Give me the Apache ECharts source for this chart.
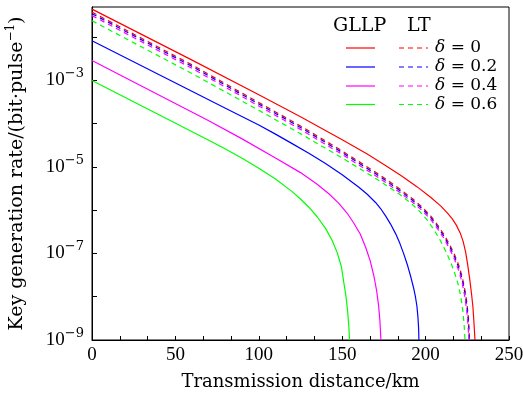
<!DOCTYPE html>
<html>
<head>
<meta charset="utf-8">
<script src="https://cdn.jsdelivr.net/npm/echarts@6/dist/echarts.min.js"></script>
<style>
html,body{margin:0;padding:0;background:#fff;}
#chart{width:523px;height:396px;}
</style>
</head>
<body>
<div id="chart"></div>
<script>
// Transmission distance (km) and log10 of key generation rate
const gllp0X = [0, 60, 100, 125, 150, 165, 175, 185, 195, 203, 209, 213, 216, 218.5, 220.8, 222.5, 224, 225.2, 226.4, 227.5, 228.4, 229.0, 229.6];
const gllp0Log = [-1.35, -2.53, -3.33, -3.84, -4.37, -4.7, -4.94, -5.19, -5.46, -5.7, -5.9, -6.06, -6.2, -6.35, -6.53, -6.72, -6.97, -7.25, -7.58, -7.92, -8.25, -8.6, -9];
const gllp2X = [0, 80, 100, 110, 120, 130, 140, 150, 160, 165, 170, 173, 176, 179, 182, 184.5, 187, 189.3, 191.2, 192.7, 193.9, 194.8, 195.4, 195.8, 196.0];
const gllp2Log = [-2.08, -3.64, -4.03, -4.24, -4.46, -4.68, -4.92, -5.18, -5.47, -5.63, -5.82, -5.96, -6.13, -6.32, -6.54, -6.76, -7.02, -7.29, -7.55, -7.78, -8.0, -8.22, -8.47, -8.72, -9];
const gllp4X = [0, 70, 90, 110, 125, 135, 142, 148, 153, 157, 160.8, 164, 166.8, 169, 170.6, 171.8, 172.6, 173.2];
const gllp4Log = [-2.54, -3.93, -4.35, -4.79, -5.13, -5.4, -5.62, -5.84, -6.07, -6.3, -6.55, -6.85, -7.17, -7.52, -7.85, -8.2, -8.55, -9];
const gllp6X = [0, 70, 80, 90, 100, 110, 120, 125, 130, 135, 140, 144, 147, 149.5, 151, 152.3, 153.3, 154, 154.4];
const gllp6Log = [-3.0, -4.38, -4.585, -4.8, -5.03, -5.28, -5.57, -5.74, -5.93, -6.15, -6.42, -6.7, -6.98, -7.3, -7.68, -8.0, -8.35, -8.7, -9];

const lt0X = [0, 60, 100, 125, 150, 172.8, 185, 192, 198, 203, 207, 211, 214.5, 217.5, 220, 222, 223.6, 224.8, 225.7, 226.3];
const lt0Log = [-1.42, -2.64, -3.51, -4.05, -4.63, -5.19, -5.52, -5.73, -5.93, -6.13, -6.33, -6.56, -6.8, -7.04, -7.28, -7.55, -7.85, -8.15, -8.5, -9];
const lt2X = [0, 60, 100, 125, 150, 172.8, 185, 192, 198, 203, 207, 211, 214.5, 217.5, 220, 222, 223.6, 224.8, 225.7, 226.2];
const lt2Log = [-1.455, -2.675, -3.545, -4.085, -4.665, -5.225, -5.555, -5.765, -5.965, -6.165, -6.37, -6.6, -6.845, -7.09, -7.34, -7.61, -7.92, -8.22, -8.58, -9];
const lt4X = [0, 60, 100, 125, 150, 172.8, 185, 192, 198, 203, 207, 211, 214.5, 217.5, 220, 222, 223.5, 224.6, 225.4, 226.0];
const lt4Log = [-1.5, -2.72, -3.59, -4.13, -4.71, -5.27, -5.6, -5.81, -6.01, -6.21, -6.42, -6.65, -6.9, -7.15, -7.41, -7.69, -8.0, -8.3, -8.65, -9];
const lt6X = [0, 60, 100, 125, 150, 172.8, 185, 191, 196, 201, 205, 209, 212.5, 215.5, 218, 219.8, 221.2, 222.3, 223.1, 223.6];
const lt6Log = [-1.62, -2.84, -3.69, -4.23, -4.79, -5.33, -5.65, -5.83, -6.01, -6.23, -6.45, -6.71, -6.98, -7.25, -7.52, -7.75, -8.02, -8.32, -8.65, -9];

const deltaLabels = ['0', '0.2', '0.4', '0.6'];
const colors = ['#ff0000', '#0000ff', '#ff00ff', '#00ff00'];
const xTickLabels = [0, 50, 100, 150, 200, 250];
const yTickExponents = [-9, -7, -5, -3];

const solidSets = [[gllp0X, gllp0Log], [gllp2X, gllp2Log], [gllp4X, gllp4Log], [gllp6X, gllp6Log]];
const dashedSets = [[lt0X, lt0Log], [lt2X, lt2Log], [lt4X, lt4Log], [lt6X, lt6Log]];

function pairs(xs, ls) { return xs.map((x, i) => [x, Math.pow(10, ls[i])]); }

const series = [];
dashedSets.forEach((s, i) => {
  series.push({
    name: 'LT δ=' + deltaLabels[i], type: 'line', data: pairs(s[0], s[1]),
    showSymbol: false, symbol: 'none', smooth: false,
    lineStyle: { color: colors[i], width: 1.2, type: [5, 4] }, z: 3
  });
});
solidSets.forEach((s, i) => {
  series.push({
    name: 'GLLP δ=' + deltaLabels[i], type: 'line', data: pairs(s[0], s[1]),
    showSymbol: false, symbol: 'none', smooth: false,
    lineStyle: { color: colors[i], width: 1.2, type: 'solid' }, z: 4
  });
});

// legend drawn as graphic (layout only)
const serif = '"DejaVu Serif", serif';
const legendEls = [
  { type: 'text', left: 333, top: 17, style: { text: 'GLLP', font: '19px ' + serif, fill: '#000' } },
  { type: 'text', left: 407, top: 17, style: { text: 'LT', font: '19px ' + serif, fill: '#000' } }
];
const rowY = [48, 67, 86, 104.5];
deltaLabels.forEach((d, i) => {
  legendEls.push({ type: 'line', shape: { x1: 346, y1: rowY[i], x2: 375, y2: rowY[i] }, style: { stroke: colors[i], lineWidth: 1.2 } });
  legendEls.push({ type: 'line', shape: { x1: 399, y1: rowY[i], x2: 428, y2: rowY[i] }, style: { stroke: colors[i], lineWidth: 1.2, lineDash: [5, 4] } });
  legendEls.push({ type: 'text', x: 435, y: rowY[i], style: { text: '{i|δ} = ' + d, rich: { i: { fontStyle: 'italic', font: 'italic 17px ' + serif } }, font: '17px ' + serif, fill: '#000', verticalAlign: 'middle' } });
});

const chart = echarts.init(document.getElementById('chart'));
chart.setOption({
  animation: false,
  backgroundColor: '#fff',
  grid: { left: 92, right: 14, top: 7, bottom: 56, containLabel: false, outerBoundsMode: 'none',
    show: true, borderColor: '#000', borderWidth: 1, backgroundColor: 'transparent' },
  xAxis: {
    type: 'value', min: 0, max: 250, interval: 50 / 3,
    name: 'Transmission distance/km', nameLocation: 'middle', nameGap: 33,
    nameTextStyle: { fontFamily: 'DejaVu Serif', fontSize: 18, color: '#000' },
    axisLine: { lineStyle: { color: '#000', width: 1 } },
    axisTick: { inside: true, length: 4, lineStyle: { color: '#000' } },
    axisLabel: {
      interval: 0, hideOverlap: false, margin: 6, color: '#000', fontFamily: 'Liberation Serif', fontSize: 19,
      formatter: v => { const r = Math.round(v); return xTickLabels.includes(r) && Math.abs(v - r) < 1e-6 ? String(r) : ''; }
    },
    splitLine: { show: false }
  },
  yAxis: {
    type: 'log', logBase: 10, min: 1e-9, max: 0.05, interval: 1,
    name: 'Key generation rate/(bit·pulse{s|−1})', nameLocation: 'middle', nameGap: 63,
    nameTextStyle: { fontFamily: 'DejaVu Serif', fontSize: 19, color: '#000', lineHeight: 24,
      rich: { s: { fontFamily: 'DejaVu Serif', fontSize: 12, verticalAlign: 'top', lineHeight: 24 } } },
    axisLine: { lineStyle: { color: '#000', width: 1 } },
    axisTick: { inside: true, length: 5, lineStyle: { color: '#000' } },
    axisLabel: {
      margin: 8, color: '#000', showMaxLabel: false,
      formatter: v => {
        const l = Math.log10(v); const e = Math.round(l);
        if (Math.abs(l - e) > 0.01) return '';
        if (!yTickExponents.includes(e)) return '';
        return '{b|10}{s|−' + (-e) + '}';
      },
      rich: {
        b: { fontFamily: 'Liberation Serif', fontSize: 19, lineHeight: 26, verticalAlign: 'middle', color: '#000' },
        s: { fontFamily: 'DejaVu Serif', fontSize: 13, lineHeight: 26, verticalAlign: 'top', color: '#000' }
      }
    },
    splitLine: { show: false }
  },
  graphic: legendEls,
  series: series
});
</script>
</body>
</html>
